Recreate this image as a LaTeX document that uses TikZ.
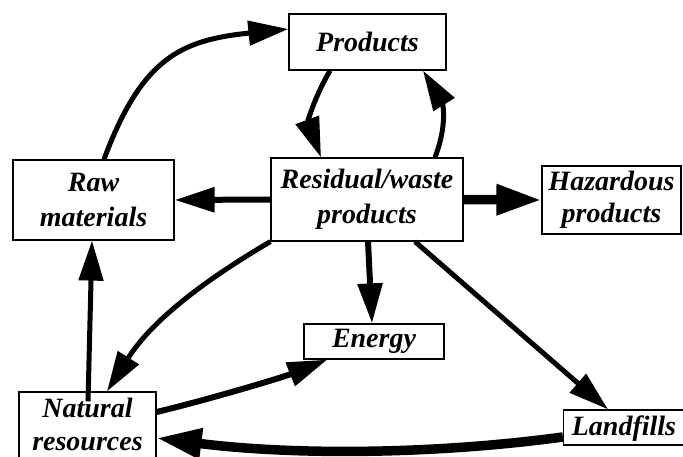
\documentclass[tikz,border=0pt]{standalone}
\usepackage{fontspec}
\setmainfont{Liberation Serif}
\usetikzlibrary{arrows.meta}
\begin{document}
\begin{tikzpicture}[x=1pt,y=-1pt,
  box/.style={draw, line width=1.2pt, inner sep=0pt, align=center,
    font=\fontsize{28}{35}\selectfont\bfseries\itshape},
  flow/.style={line width=5pt, -{Triangle[length=40pt,width=24pt]}},
  heavy/.style={line width=9.5pt, -{Triangle[length=45pt,width=29pt]}},
]
\useasboundingbox (0,0) rectangle (683,457);

% boxes
\node[box, minimum width=157pt, minimum height=56pt] (prod) at (367.5,42) {Products};
\node[box, minimum width=161pt, minimum height=80pt] (raw)  at (93.5,200) {Raw\\materials};
\node[box, minimum width=192pt, minimum height=83pt] (res)  at (367,199.5) {Residual/waste\\products};
\node[box, minimum width=139pt, minimum height=68pt, font=\fontsize{28}{32}\selectfont\bfseries\itshape] (haz) at (611.5,200) {Hazardous\\products};
\node[box, minimum width=140pt, minimum height=35pt] (ener) at (374,341.5) {Energy};
\node[box, minimum width=137pt, minimum height=72pt, text depth=8pt, font=\fontsize{28}{33}\selectfont\bfseries\itshape] (nat) at (87.5,428) {Natural\\resources};
\node[box, minimum width=121pt, minimum height=35pt, text depth=3pt] (land) at (624,427.5) {Landfills};

% flows
\draw[flow] ([xshift=10.5pt]raw.north) .. controls (142,57) and (182,40) .. ([yshift=13pt]prod.west);
\draw[flow] ([xshift=-37.5pt]prod.south) .. controls (313,100) and (308,122) .. ([xshift=-46pt]res.north);
\draw[flow] ([xshift=68pt]res.north) .. controls (450,118) and (440,98) .. ([xshift=55.5pt]prod.south);
\draw[flow, line width=6pt] (res.west) -- (raw.east);
\draw[heavy] (res.east) -- (haz.west);
\draw[flow, line width=6pt] ([xshift=1pt]res.south) -- ([xshift=-2pt]ener.north);
\draw[flow] (res.south west) .. controls (200,283) and (151,322) .. ([xshift=19.5pt]nat.north);
\draw[flow] ([xshift=48pt]res.south) -- ([xshift=-16pt]land.north);
\draw[flow] ([xshift=0.5pt,yshift=-10pt]nat.north) -- ([xshift=-1.5pt]raw.south);
\draw[flow, line width=6pt] ([yshift=16pt]nat.east) .. controls (203,401) and (281,378) .. ([xshift=24pt]ener.south west);
\draw[heavy] ([yshift=-9.5pt]land.west) .. controls (430,455) and (290,455) .. ([yshift=-10pt]nat.east);
\end{tikzpicture}
\end{document}
